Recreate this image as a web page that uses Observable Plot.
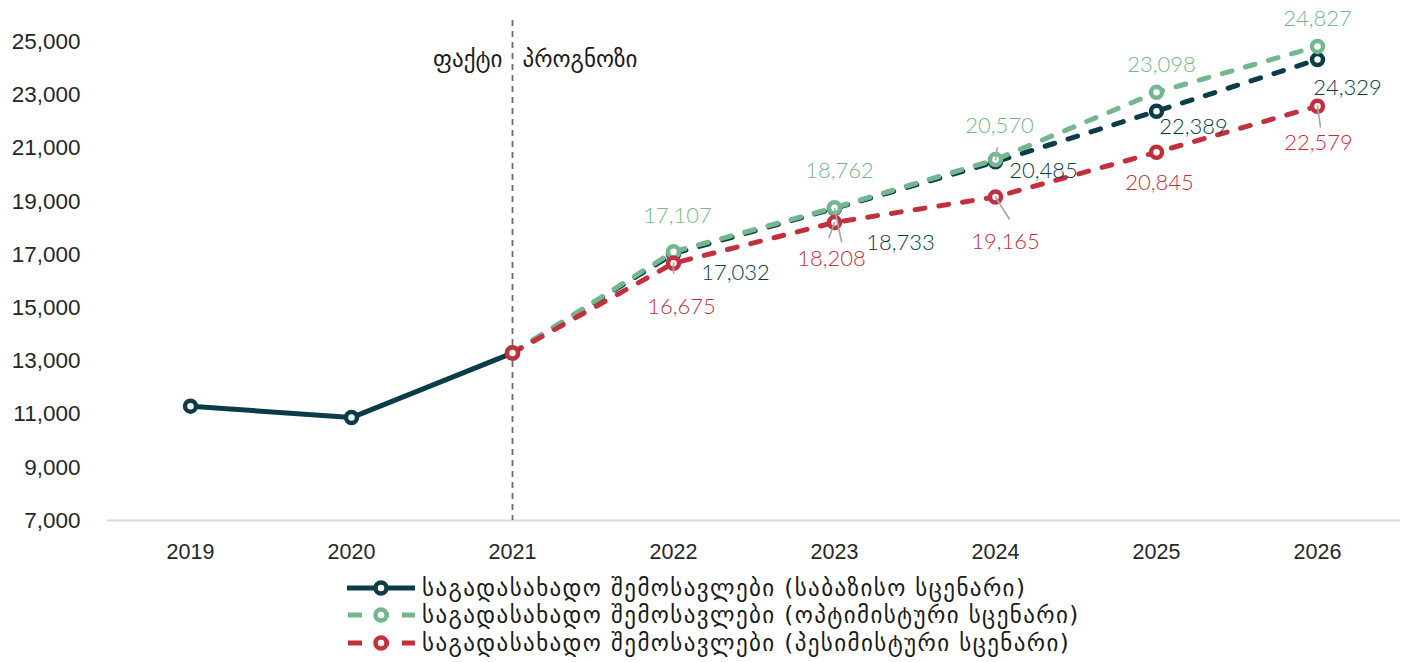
<!DOCTYPE html>
<html lang="ka">
<head>
<meta charset="UTF-8">
<title>საგადასახადო შემოსავლები</title>
<style>
  body { margin: 0; background: #fff; font-family: "DejaVu Sans", sans-serif; }
  #chart svg { display: block; }
  .legend { margin-left: 345px; margin-top: 4px; }
  .legend .row { display: flex; align-items: center; height: 27.5px; }
  .legend svg { margin-right: 3px; }
  .legend span { font-family: "DejaVu Sans", sans-serif; font-size: 23px; color: #1a1a1a; letter-spacing: 1.4px; white-space: nowrap; }
</style>
</head>
<body>
<div id="chart"></div>
<div class="legend" id="legend"></div>

<script src="https://cdn.jsdelivr.net/npm/d3@7"></script>
<script src="https://cdn.jsdelivr.net/npm/@observablehq/plot@0.6"></script>
<script>
// data
const years = ["2019", "2020", "2021", "2022", "2023", "2024", "2025", "2026"];
const actual = [11300, 10870, 13300];                 // 2019-2021
const baseline = [13300, 17032, 18733, 20485, 22389, 24329];   // 2021-2026
const optimistic = [13300, 17107, 18762, 20570, 23098, 24827];
const pessimistic = [13300, 16675, 18208, 19165, 20845, 22579];
const yTicks = [7000, 9000, 11000, 13000, 15000, 17000, 19000, 21000, 23000, 25000];

const seriesNames = [
  "საგადასახადო შემოსავლები (საბაზისო სცენარი)",
  "საგადასახადო შემოსავლები (ოპტიმისტური სცენარი)",
  "საგადასახადო შემოსავლები (პესიმისტური სცენარი)"
];
const colors = ["#0c3c47", "#74b78f", "#c2303e"];

// rows
const actualRows = actual.map((v, i) => ({year: years[i], value: v}));
const fYears = years.slice(2);
const toRows = (arr, s) => arr.map((v, i) => ({year: fYears[i], value: v, s}));
const baseRows = toRows(baseline, 0);
const optRows = toRows(optimistic, 1);
const pesRows = toRows(pessimistic, 2);

// label offsets (px) for labelled forecast points 2022..2026
const offsets = [
  [[62, 19], [66, 35], [48, 9], [37, 16], [30, 28]],     // baseline
  [[4, -36], [5, -37], [4, -34], [5, -27], [0, -27]],     // optimistic
  [[8, 44], [-3, 37], [10, 45], [3, 31], [1, 37]]         // pessimistic
];

// grey leader lines from a point: length px, angle deg
const leaders = [
  {row: pesRows[1], len: 10, angle: 180},
  {row: baseRows[2], len: 34, angle: 168},
  {row: pesRows[2], len: 16, angle: 200},
  {row: optRows[3], len: 12, angle: 8},
  {row: pesRows[3], len: 26, angle: 148},
  {row: pesRows[5], len: 21, angle: 172}
].map(d => ({...d.row, len: d.len, angle: d.angle}));
const leaderShape = {draw(ctx, l) { ctx.moveTo(0, 0); ctx.lineTo(0, -l); }};

const fmt = d3.format(",");
const labelMarks = [];
[baseRows, optRows, pesRows].forEach((rows, s) => {
  rows.slice(1).forEach((d, i) => {
    labelMarks.push(Plot.text([d], {
      x: "year", y: "value", text: d => fmt(d.value),
      dx: offsets[s][i][0], dy: offsets[s][i][1],
      fill: colors[s], fontSize: 22, fontWeight: 300, fontFamily: "Lato, sans-serif"
    }));
  });
});

const lineStyle = {x: "year", y: "value", strokeWidth: 5, strokeDasharray: "10,14", strokeLinecap: "round"};
const dotStyle = {x: "year", y: "value", r: 5.5, fill: "white", strokeWidth: 4.5};
const geoText = {frameAnchor: "top", dy: 30, fontSize: 23, fill: "#1a1a1a", fontFamily: "DejaVu Sans", letterSpacing: 1.5};

const plot = Plot.plot({
  width: 1408,
  height: 570,
  marginLeft: 107,
  marginRight: 8,
  marginTop: 20,
  marginBottom: 50,
  style: {fontFamily: "Liberation Sans, sans-serif", color: "#262626"},
  x: {type: "point", domain: years, padding: 0.5, label: null},
  y: {domain: [7000, 25800], label: null},
  length: {type: "identity"},
  marks: [
    Plot.ruleY([7000], {stroke: "#d9d9d9", strokeWidth: 2}),
    Plot.ruleX(["2021"], {stroke: "#6b6b6b", strokeWidth: 1.8, strokeDasharray: "6,5"}),
    Plot.text(["ფაქტი"], {...geoText, x: () => "2021", text: d => d, dx: -10, textAnchor: "end"}),
    Plot.text(["პროგნოზი"], {...geoText, x: () => "2021", text: d => d, dx: 10, textAnchor: "start"}),
    Plot.axisY({ticks: yTicks, tickFormat: fmt, tickSize: 0, tickPadding: 27, fontSize: 22.5}),
    Plot.axisX({tickSize: 0, tickPadding: 23, fontSize: 21.5}),
    Plot.line(actualRows, {x: "year", y: "value", stroke: colors[0], strokeWidth: 5}),
    Plot.line(baseRows, {...lineStyle, stroke: colors[0]}),
    Plot.line(optRows, {...lineStyle, stroke: colors[1]}),
    Plot.line(pesRows, {...lineStyle, stroke: colors[2]}),
    Plot.dot(actualRows, {...dotStyle, stroke: colors[0]}),
    Plot.dot(baseRows.slice(1), {...dotStyle, stroke: colors[0]}),
    Plot.dot(optRows.slice(1), {...dotStyle, stroke: colors[1]}),
    Plot.dot(pesRows, {...dotStyle, stroke: colors[2]}),
    Plot.vector(leaders, {x: "year", y: "value", length: "len", rotate: "angle", anchor: "start", shape: leaderShape, stroke: "#a6a6a6", strokeWidth: 1.6}),
    ...labelMarks
  ]
});
document.querySelector("#chart").append(plot);

// legend
const legend = document.querySelector("#legend");
seriesNames.forEach((name, i) => {
  const row = document.createElement("div");
  row.className = "row";
  const dash = i === 0 ? "" : 'stroke-dasharray="14,13" stroke-dashoffset="-1"';
  row.innerHTML = `<svg width="74" height="20"><line x1="2" y1="10" x2="70" y2="10" stroke="${colors[i]}" stroke-width="5" ${dash}/>` +
    `<circle cx="36" cy="10" r="5.5" fill="white" stroke="${colors[i]}" stroke-width="4.5"/></svg><span>${name}</span>`;
  legend.append(row);
});
</script>
</body>
</html>
